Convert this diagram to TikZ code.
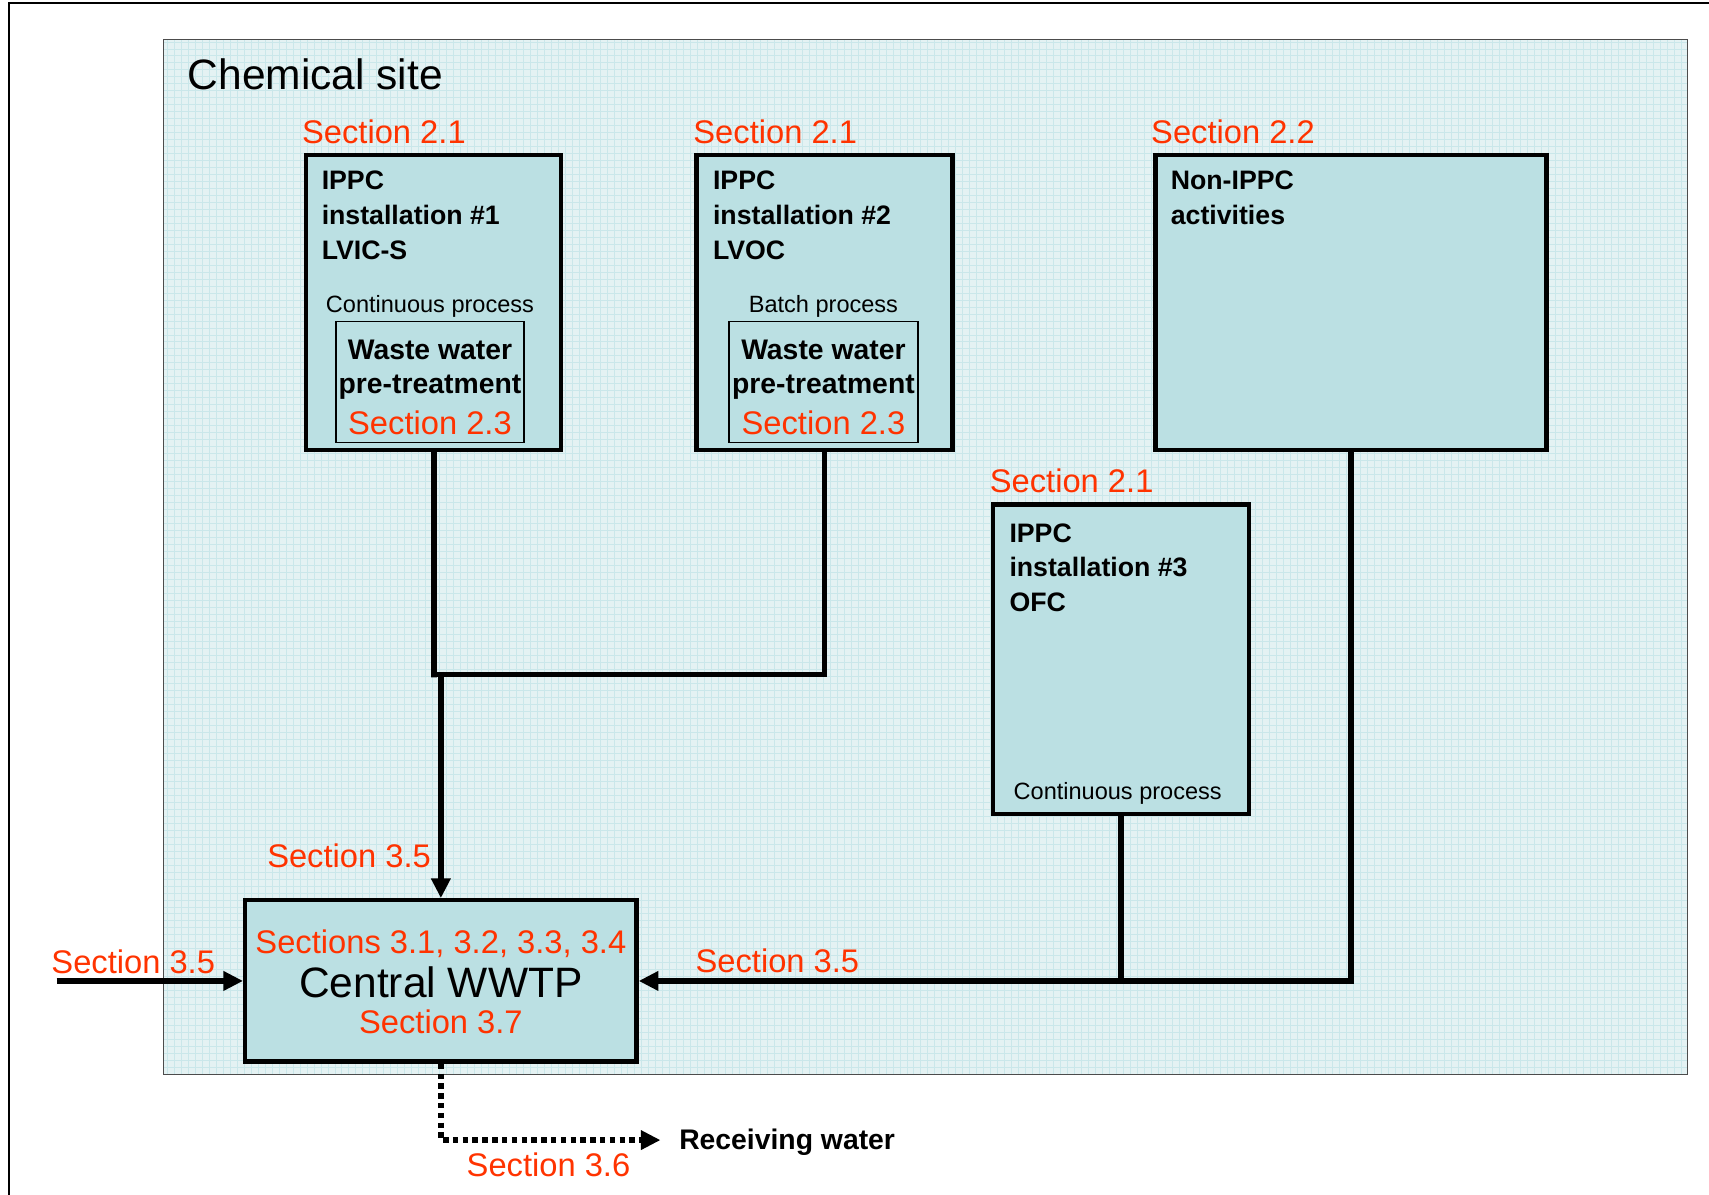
\documentclass[tikz,border=0pt]{standalone}
\usepackage{fontspec}
\setmainfont{Liberation Sans}
\usepackage{xcolor}
\usetikzlibrary{arrows.meta,positioning}
\definecolor{secred}{RGB}{255,51,0}
\definecolor{boxfill}{RGB}{187,224,227}
\definecolor{sitefill}{RGB}{228,242,243}
\definecolor{sitegrid}{RGB}{202,231,234}
\tikzset{
unitbox/.style = {draw=black, line width=4pt, fill=boxfill, inner sep=0pt},% installation box
pretreat/.style = {draw=black, line width=1.5pt, fill=boxfill, inner sep=0pt,
minimum width=173pt, minimum height=111pt},% pre-treatment box
sect/.style = {text=secred, inner sep=0pt, font=\fontsize{30}{36}\selectfont},% section reference
unittitle/.style = {inner sep=0pt, align=left, font=\bfseries\fontsize{24.5}{32}\selectfont},
proc/.style = {inner sep=0pt, font=\fontsize{21.6}{26}\selectfont},
pretext/.style = {inner sep=0pt, anchor=base, font=\bfseries\fontsize{26}{31}\selectfont},
pipe/.style = {line width=5pt},
flow/.style = {pipe, -{Triangle[length=18pt,width=17pt]}},
dotflow/.style = {pipe, dash pattern=on 5pt off 4pt, -{Triangle[length=18pt,width=17pt]}}
}
\begin{document}
\begin{tikzpicture}[x=1pt,y=-1pt]
\useasboundingbox (0,0) rectangle (1568,1096);
% page frame
\draw[line width=2pt] (8,1096) -- (8,3) -- (1568,3);
% chemical site
\fill[sitefill] (150,36) rectangle (1548,986);
\draw[sitegrid, line width=0.6pt] (150,36) grid[step=6.4pt] (1548,986);
\draw[black!70, line width=1.2pt] (150,36) rectangle (1548,986);
\node[anchor=base west, inner sep=0pt, font=\fontsize{39}{44}\selectfont] (site) at (172,82) {Chemical site};

% units
\node[unitbox, minimum width=234pt, minimum height=271pt] (inst1) at (398,277.5) {};
\node[unitbox, minimum width=235pt, minimum height=271pt] (inst2) at (756.5,277.5) {};
\node[unitbox, minimum width=359pt, minimum height=271pt] (nonippc) at (1239.5,277.5) {};
\node[unitbox, minimum width=235pt, minimum height=284pt] (inst3) at (1028.5,605) {};
\node[unitbox, minimum width=359pt, minimum height=148pt] (wwtp) at (404.5,900) {};

\node[sect, above right=8pt and -2pt of inst1.north west] (s1) {Section 2.1};
\node[sect, above right=8pt and -1pt of inst2.north west] (s2) {Section 2.1};
\node[sect, above right=8pt and -2pt of nonippc.north west] (s3) {Section 2.2};
\node[sect, above right=9pt and -1pt of inst3.north west] (s4) {Section 2.1};

\node[unittitle, below right=17pt and 16pt of inst1.north west] (t1) {IPPC\\installation \#1\\LVIC-S};
\node[unittitle, below right=17pt and 17pt of inst2.north west] (t2) {IPPC\\installation \#2\\LVOC};
\node[unittitle, below right=17pt and 16pt of nonippc.north west] (t3) {Non-IPPC\\activities};
\node[unittitle, below right=19pt and 17pt of inst3.north west] (t4) {IPPC\\installation \#3\\OFC};

% pre-treatment
\node[pretreat] (pre1) at (394.5,350.5) {};
\node[pretreat] (pre2) at (755.5,350.5) {};
\node[proc, above=3pt of pre1] (p1) {Continuous process};
\node[proc, above=3pt of pre2] (p2) {Batch process};
\node[proc, above=11pt of inst3.south, xshift=-3pt] (p3) {Continuous process};
\foreach \p in {pre1,pre2}{
  \node[pretext] (\p a) at ([yshift=20.5pt]\p.center) {Waste water};
  \node[pretext] (\p b) at ([yshift=-10.5pt]\p.center) {pre-treatment};
  \node[sect, anchor=base] (\p c) at ([yshift=-48.5pt]\p.center) {Section 2.3};
}

% central plant
\node[sect, anchor=base] (w1) at ([yshift=25pt]wwtp.center) {Sections 3.1, 3.2, 3.3, 3.4};
\node[anchor=base, inner sep=0pt, font=\fontsize{39}{44}\selectfont] (w2) at ([yshift=-15pt]wwtp.center) {Central WWTP};
\node[sect, anchor=base] (w3) at ([yshift=-48pt]wwtp.center) {Section 3.7};

% connections
\coordinate (junc) at (398,619);
\coordinate (inflow) at (52,900);
\draw[pipe] (inst1.south) -- ([yshift=-2.5pt]junc) |- (junc) -| (inst2.south);
\draw[flow] ([yshift=2.5pt]junc -| wwtp.north) -- (wwtp.north);
\draw[pipe] (inst3.south) -- (inst3.south |- wwtp.east);
\draw[flow] (nonippc.south) |- (wwtp.east);
\draw[flow] (inflow) -- (wwtp.west);
\node[anchor=base west, inner sep=0pt, font=\bfseries\fontsize{26}{31}\selectfont] (recv) at (623,1055) {Receiving water};
\draw[dotflow] (wwtp.south) |- ([xshift=-17pt,yshift=9pt]recv.base west);

\node[sect, anchor=base west] (a1) at (245,796) {Section 3.5};
\node[sect, anchor=base west] (a2) at (638,892) {Section 3.5};
\node[sect, anchor=base west] (a3) at (47,893) {Section 3.5};
\node[sect, anchor=base west] (a4) at (428,1079) {Section 3.6};
\end{tikzpicture}
\end{document}
